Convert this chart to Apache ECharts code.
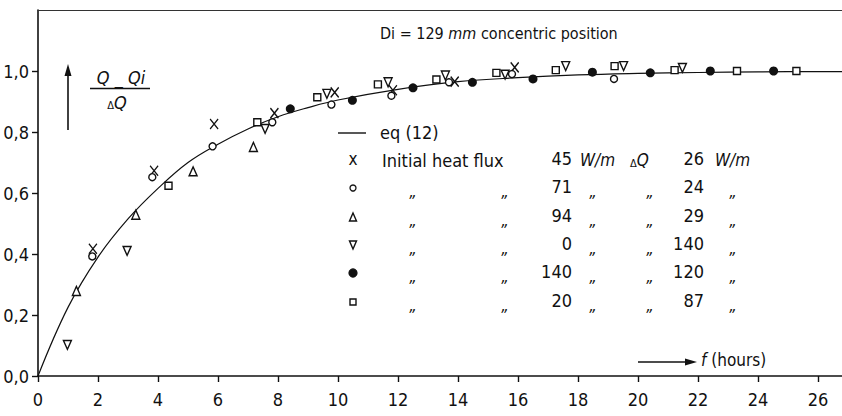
<!DOCTYPE html>
<html>
<head>
<meta charset="utf-8">
<script src="https://cdn.jsdelivr.net/npm/echarts@6/dist/echarts.min.js"></script>
<style>
  html, body { margin: 0; padding: 0; background: #fff; }
  #chart { width: 842px; height: 416px; }
</style>
</head>
<body>
<div id="chart"></div>
<script>
// tick labels
const xTicks = [0, 2, 4, 6, 8, 10, 12, 14, 16, 18, 20, 22, 24, 26];
const yTicks = [0, 0.2, 0.4, 0.6, 0.8, 1.0];

// eq (12) curve
const curveT = [0, 1, 2, 3, 4, 5, 6, 7, 8, 9, 10, 12, 14, 16, 18, 20, 22, 24, 26, 27];
const curveY = [0, 0.225, 0.39, 0.515, 0.615, 0.70, 0.76, 0.81, 0.85, 0.88, 0.905, 0.94, 0.965, 0.978, 0.987, 0.992, 0.995, 0.997, 0.998, 0.998];

// initial heat flux 45 W/m, dQ 26 W/m  (x)
const crossT = [1.83, 3.87, 5.87, 7.88, 9.89, 11.83, 13.89, 15.89];
const crossY = [0.417, 0.673, 0.826, 0.862, 0.93, 0.937, 0.965, 1.012];
// 71 / 24  (o)
const circleT = [1.81, 3.81, 5.82, 7.81, 9.78, 11.78, 13.7, 15.8, 19.2];
const circleY = [0.392, 0.652, 0.753, 0.832, 0.89, 0.919, 0.963, 0.99, 0.974];
// 94 / 29  (triangle up)
const triUpT = [1.28, 3.26, 5.17, 7.18];
const triUpY = [0.279, 0.529, 0.671, 0.751];
// 0 / 140  (triangle down)
const triDownT = [0.98, 2.97, 7.57, 9.63, 11.67, 13.58, 15.57, 17.59, 19.52, 21.48];
const triDownY = [0.102, 0.41, 0.81, 0.925, 0.963, 0.985, 0.988, 1.016, 1.016, 1.01];
// 140 / 120  (filled dot)
const dotT = [8.41, 10.48, 12.5, 14.48, 16.5, 18.48, 20.41, 22.41, 24.52];
const dotY = [0.876, 0.904, 0.945, 0.963, 0.974, 0.996, 0.994, 1.0, 1.0];
// 20 / 87  (square)
const squareT = [4.35, 7.31, 9.31, 11.33, 13.28, 15.28, 17.26, 19.22, 21.22, 23.3, 25.28];
const squareY = [0.624, 0.832, 0.914, 0.956, 0.972, 0.994, 1.003, 1.016, 1.003, 1.0, 1.0];

// legend table
const fluxValues = ["45", "71", "94", "0", "140", "20"];
const dqValues = ["26", "24", "29", "140", "120", "87"];

const FONT = "'DejaVu Sans Condensed', 'Liberation Sans Narrow', sans-serif";
const INK = "#111";

const pairs = (t, y) => t.map((v, i) => [v, y[i]]);

const chart = echarts.init(document.getElementById("chart"), null, { renderer: "svg" });

function scatter(name, t, y, symbol, size, filled) {
  return {
    name: name,
    type: "scatter",
    data: pairs(t, y),
    symbol: symbol,
    symbolSize: size,
    itemStyle: {
      color: filled ? INK : "#fff",
      borderColor: INK,
      borderWidth: filled ? 0 : 1.4,
      opacity: 1,
    },
    z: 3,
  };
}

// legend rows
const rowY = [160, 188, 217, 245, 273, 302];
const legendItems = [];
const txt = (x, y, s, opts) => ({
  type: "text",
  x: x,
  y: y,
  style: Object.assign(
    { text: s, font: "17px " + FONT, fill: INK, verticalAlign: "middle", align: "left" },
    opts || {}
  ),
});

const markers = ["x", "o", "up", "down", "dot", "sq"];
markers.forEach((m, i) => {
  const cx = 353, cy = rowY[i];
  if (m === "x") {
    legendItems.push(txt(cx, cy - 1, "x", { align: "center" }));
  } else if (m === "o" || m === "dot") {
    legendItems.push({
      type: "circle",
      shape: { cx: cx, cy: cy, r: m === "dot" ? 4 : 3 },
      style: { fill: m === "dot" ? INK : "#fff", stroke: INK, lineWidth: 1.3 },
    });
  } else if (m === "up") {
    legendItems.push({
      type: "polygon",
      shape: { points: [[cx, cy - 4], [cx + 3.5, cy + 4], [cx - 3.5, cy + 4]] },
      style: { fill: "#fff", stroke: INK, lineWidth: 1.4 },
    });
  } else if (m === "down") {
    legendItems.push({
      type: "polygon",
      shape: { points: [[cx - 3.5, cy - 4], [cx + 3.5, cy - 4], [cx, cy + 4]] },
      style: { fill: "#fff", stroke: INK, lineWidth: 1.4 },
    });
  } else {
    legendItems.push({
      type: "rect",
      shape: { x: cx - 3, y: cy - 3, width: 6, height: 6 },
      style: { fill: "#fff", stroke: INK, lineWidth: 1.4 },
    });
  }
  legendItems.push(txt(572, cy - 2, fluxValues[i], { align: "right", font: "18px " + FONT }));
  legendItems.push(txt(704, cy - 2, dqValues[i], { align: "right", font: "18px " + FONT }));
  if (i === 0) {
    legendItems.push(txt(382, cy, "Initial heat flux", { font: "18px " + FONT }));
    legendItems.push(txt(580, cy, "W/m", { font: "italic 17px " + FONT }));
    legendItems.push(txt(630, cy, "{d|Δ}{q|Q}", {
      rich: {
        d: { font: "11px " + FONT, fill: INK, verticalAlign: "bottom" },
        q: { font: "italic 17px " + FONT, fill: INK },
      },
    }));
    legendItems.push(txt(715, cy, "W/m", { font: "italic 17px " + FONT }));
  } else {
    [413, 505, 593, 650, 733].forEach((x) => {
      legendItems.push(txt(x, cy + 3, "„", { align: "center", font: "italic 16px " + FONT }));
    });
  }
});

const option = {
  animation: false,
  backgroundColor: "#fff",
  grid: { left: 38, right: 0, top: 10, bottom: 40, outerBoundsMode: "none", containLabel: false },
  xAxis: [
    {
      type: "value",
      min: 0,
      max: 26.8,
      interval: 2,
      splitLine: { show: false },
      axisLine: { lineStyle: { color: INK, width: 1.6 } },
      axisTick: { show: true, inside: false, length: 6, lineStyle: { color: INK, width: 1.4 }, customValues: xTicks },
      axisLabel: { customValues: xTicks, color: INK, fontFamily: FONT, fontSize: 18, margin: 14 },
    },
    {
      type: "value",
      position: "top",
      min: 0,
      max: 26.8,
      splitLine: { show: false },
      axisLine: { show: true, lineStyle: { color: "#333", width: 1.2 } },
      axisTick: { show: false },
      axisLabel: { show: false },
    },
  ],
  yAxis: {
    type: "value",
    min: 0,
    max: 1.2,
    splitLine: { show: false },
    axisLine: { show: true, lineStyle: { color: INK, width: 1.6 } },
    axisTick: { show: true, inside: false, length: 6, lineStyle: { color: INK, width: 1.4 }, customValues: yTicks },
    axisLabel: {
      customValues: yTicks,
      color: INK,
      fontFamily: FONT,
      fontSize: 18,
      margin: 9,
      formatter: (v) => v.toFixed(1).replace(".", ","),
    },
  },
  series: [
    {
      name: "eq (12)",
      type: "line",
      data: pairs(curveT, curveY),
      smooth: 0.4,
      showSymbol: false,
      lineStyle: { color: INK, width: 1.2 },
      z: 2,
    },
    scatter("45", crossT, crossY, "path://M0,0L10,10M10,0L0,10", [8, 10], false),
    scatter("71", circleT, circleY, "circle", 7, false),
    scatter("94", triUpT, triUpY, "triangle", [8, 9], false),
    scatter("0", triDownT, triDownY, "path://M0,0L10,0L5,10Z", [8, 9], false),
    scatter("140", dotT, dotY, "circle", 9, true),
    scatter("20", squareT, squareY, "rect", 7, false),
  ],
  graphic: [
    // header
    txt(380, 33, "{n|Di = 129 }{i|mm}{n| concentric position}", {
      rich: {
        n: { font: "16px " + FONT, fill: INK },
        i: { font: "italic 16px " + FONT, fill: INK },
      },
    }),
    // y label: arrow and fraction
    { type: "line", shape: { x1: 68, y1: 130, x2: 68, y2: 74 }, style: { stroke: INK, lineWidth: 1.6 } },
    { type: "polygon", shape: { points: [[68, 64], [71.5, 76], [64.5, 76]] }, style: { fill: INK } },
    txt(121, 77, "Q _ Qi", { align: "center", font: "italic 18px " + FONT }),
    { type: "line", shape: { x1: 90, y1: 88.5, x2: 150, y2: 88.5 }, style: { stroke: INK, lineWidth: 1.3 } },
    txt(117, 102, "{d|Δ}{q|Q}", {
      align: "center",
      rich: {
        d: { font: "11px " + FONT, fill: INK, verticalAlign: "bottom" },
        q: { font: "italic 18px " + FONT, fill: INK },
      },
    }),
    // eq (12)
    { type: "line", shape: { x1: 338, y1: 133, x2: 366, y2: 133 }, style: { stroke: INK, lineWidth: 1.4 } },
    txt(380, 132, "eq (12)", { font: "18px " + FONT }),
    // time arrow
    { type: "line", shape: { x1: 638, y1: 362, x2: 686, y2: 362 }, style: { stroke: INK, lineWidth: 1.6 } },
    { type: "polygon", shape: { points: [[697, 362], [685, 358.5], [685, 365.5]] }, style: { fill: INK } },
    txt(701, 360, "{i|f}{n| (hours)}", {
      rich: {
        n: { font: "17px " + FONT, fill: INK },
        i: { font: "italic 17px " + FONT, fill: INK },
      },
    }),
  ].concat(legendItems),
};

chart.setOption(option);
</script>
</body>
</html>
